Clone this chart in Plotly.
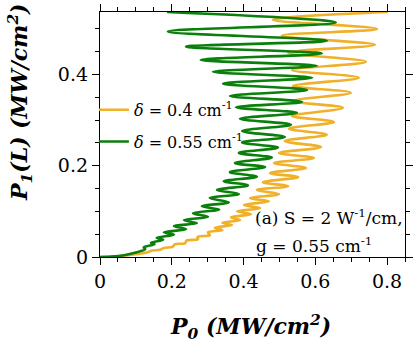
import plotly.graph_objects as go

# delta = 0.4 cm^-1 (orange): P0 (x) and P1(L) (y)
p0_d04 = [0, 0.056, 0.098, 0.131, 0.145, 0.167, 0.178, 0.202, 0.209, 0.237, 0.241, 0.273,
          0.272, 0.306, 0.301, 0.341, 0.320, 0.368, 0.341, 0.390, 0.365, 0.421, 0.382, 0.446,
          0.401, 0.471, 0.418, 0.499, 0.437, 0.524, 0.454, 0.552, 0.474, 0.574, 0.485, 0.596,
          0.499, 0.616, 0.515, 0.632, 0.527, 0.652, 0.535, 0.677, 0.538, 0.699, 0.538, 0.721,
          0.535, 0.741, 0.524, 0.766, 0.507, 0.772, 0.482, 0.802]
p1_d04 = [0, 0.002, 0.006, 0.010, 0.014, 0.016, 0.020, 0.022, 0.028, 0.030, 0.036, 0.039,
          0.044, 0.048, 0.054, 0.059, 0.064, 0.070, 0.075, 0.081, 0.087, 0.094, 0.100, 0.107,
          0.114, 0.122, 0.129, 0.138, 0.147, 0.155, 0.164, 0.175, 0.184, 0.195, 0.206, 0.217,
          0.228, 0.241, 0.254, 0.268, 0.281, 0.296, 0.309, 0.327, 0.342, 0.360, 0.375, 0.393,
          0.410, 0.428, 0.448, 0.465, 0.485, 0.500, 0.520, 0.537]

# delta = 0.55 cm^-1 (green)
p0_d055 = [0, 0.033, 0.067, 0.100, 0.126, 0.122, 0.152, 0.142, 0.176, 0.158, 0.206, 0.178,
           0.240, 0.206, 0.270, 0.234, 0.301, 0.259, 0.332, 0.284, 0.359, 0.306, 0.387, 0.326,
           0.412, 0.345, 0.437, 0.362, 0.460, 0.376, 0.479, 0.387, 0.496, 0.396, 0.515, 0.396,
           0.532, 0.390, 0.549, 0.379, 0.563, 0.362, 0.577, 0.343, 0.591, 0.315, 0.604, 0.281,
           0.618, 0.240, 0.632, 0.189, 0.657, 0.187]
p1_d055 = [0, 0.001, 0.004, 0.010, 0.017, 0.021, 0.028, 0.031, 0.038, 0.042, 0.049, 0.054,
           0.061, 0.068, 0.074, 0.081, 0.088, 0.096, 0.104, 0.111, 0.120, 0.129, 0.138, 0.147,
           0.157, 0.166, 0.176, 0.186, 0.197, 0.206, 0.218, 0.228, 0.240, 0.251, 0.263, 0.276,
           0.290, 0.303, 0.316, 0.328, 0.340, 0.353, 0.366, 0.380, 0.393, 0.406, 0.419, 0.432,
           0.446, 0.461, 0.474, 0.494, 0.514, 0.537]

x_ticks = [0, 0.2, 0.4, 0.6, 0.8]
x_ticklabels = ["0", "0.2", "0.4", "0.6", "0.8"]
y_ticks = [0, 0.2, 0.4]
y_ticklabels = ["0", "0.2", "0.4"]

ORANGE = "#F0B02A"
GREEN = "#0B7F0B"
FONT = "DejaVu Serif"

fig = go.Figure()
fig.add_trace(go.Scatter(x=p0_d04, y=p1_d04, mode="lines", legendgroup="a",
                         line=dict(color=ORANGE, width=2.6, shape="spline", smoothing=1.0),
                         name="<i>δ</i> = 0.4 cm<sup>-1</sup>"))
fig.add_trace(go.Scatter(x=p0_d055, y=p1_d055, mode="lines", legendgroup="b",
                         line=dict(color=GREEN, width=2.6, shape="spline", smoothing=1.0),
                         name="<i>δ</i> = 0.55 cm<sup>-1</sup>"))

axis_common = dict(showline=True, linecolor="black", linewidth=1.3, mirror="ticks",
                   ticks="outside", ticklen=7, tickwidth=1.3, tickcolor="black",
                   showgrid=False, zeroline=False,
                   tickfont=dict(family=FONT, size=19, color="black"),
                   minor=dict(ticks="outside", ticklen=4, tickwidth=1.1, tickcolor="black",
                              dtick=0.05, showgrid=False))

fig.update_xaxes(range=[0, 0.85], tickvals=x_ticks, ticktext=x_ticklabels, **axis_common)
fig.update_yaxes(range=[0, 0.537], tickvals=y_ticks, ticktext=y_ticklabels, **axis_common)

fig.update_layout(
    template="none",
    width=415, height=353, autosize=False,
    margin=dict(l=100, r=10, t=12, b=96),
    paper_bgcolor="white", plot_bgcolor="white",
    font=dict(family=FONT, color="black", size=16),
    showlegend=True,
    legend=dict(x=-0.02, y=0.67, xanchor="left", yanchor="top", traceorder="grouped",
                bgcolor="rgba(0,0,0,0)", font=dict(family=FONT, size=16, color="black"),
                itemwidth=30, tracegroupgap=8),
    annotations=[
        dict(text="<b><i>P</i></b><sub><b><i>0</i></b></sub><b><i> (MW/cm<sup>2</sup>)</i></b>",
             xref="paper", yref="paper", x=0.492, y=-0.286, xanchor="center", yanchor="middle",
             showarrow=False, font=dict(family=FONT, size=22, color="black")),
        dict(text="<b><i>P</i></b><sub><b><i>1</i></b></sub><b><i>(L) (MW/cm<sup>2</sup>)</i></b>",
             xref="paper", yref="paper", x=-0.262, y=0.633, xanchor="center", yanchor="middle",
             textangle=-90, showarrow=False, font=dict(family=FONT, size=22, color="black")),
        dict(text="(a) S = 2 W<sup>-1</sup>/cm,", xref="paper", yref="paper",
             x=1.0, y=0.163, xanchor="right", yanchor="middle", showarrow=False,
             font=dict(family=FONT, size=17, color="black")),
        dict(text="g = 0.55 cm<sup>-1</sup>", xref="paper", yref="paper",
             x=0.505, y=0.049, xanchor="left", yanchor="middle", showarrow=False,
             font=dict(family=FONT, size=17, color="black")),
    ],
)

fig.write_html("out.html", config={"displayModeBar": False},
               post_script="document.body.style.margin='0';")
